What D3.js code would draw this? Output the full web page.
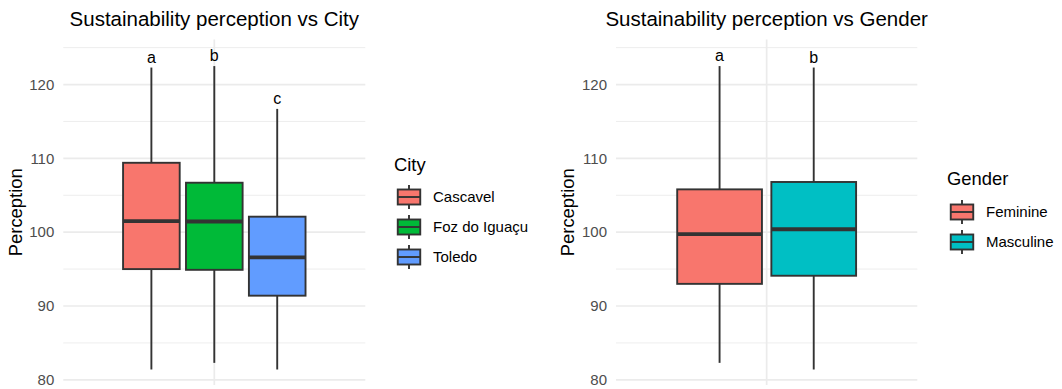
<!DOCTYPE html>
<html>
<head>
<meta charset="utf-8">
<script src="https://cdn.jsdelivr.net/npm/d3@7"></script>
<style>
  html, body { margin: 0; padding: 0; background: #ffffff; }
  svg { display: block; font-family: "Liberation Sans", Arial, Helvetica, sans-serif; }
</style>
</head>
<body>
<svg id="chart" width="1062" height="389"></svg>
<script>
// Box statistics per city (lower whisker, Q1, median, Q3, upper whisker)
const cityCategories = ["Cascavel", "Foz do Iguaçu", "Toledo"];
const cityLower  = [81.4, 82.3, 81.4];
const cityQ1     = [95.0, 94.9, 91.4];
const cityMedian = [101.5, 101.45, 96.6];
const cityQ3     = [109.4, 106.7, 102.1];
const cityUpper  = [122.3, 122.5, 116.7];
const cityLetters = ["a", "b", "c"];
const cityColors = ["#F8766D", "#00BA38", "#619CFF"];

// Box statistics per gender
const genderCategories = ["Feminine", "Masculine"];
const genderLower  = [82.3, 81.4];
const genderQ1     = [93.0, 94.1];
const genderMedian = [99.75, 100.4];
const genderQ3     = [105.8, 106.8];
const genderUpper  = [122.5, 122.3];
const genderLetters = ["a", "b"];
const genderColors = ["#F8766D", "#00BFC4"];

const yMajorTicks = [80, 90, 100, 110, 120];
const yMinorTicks = [85, 95, 105, 115, 125];
const yDomain = [79.3, 126.1];

const svg = d3.select("#chart");
const GRID = "#EBEBEB";
const OUTLINE = "#333333";

function drawPanel(cfg) {
  const g = svg.append("g");
  const y = d3.scaleLinear().domain(yDomain).range([385, 39.5]);
  // single discrete x position, expanded by 0.6 on each side
  const x = d3.scaleLinear().domain([0.4, 1.6]).range([cfg.left, cfg.right]);
  const dodge = d3.scaleBand()
    .domain(cfg.categories)
    .range([x(1 - 0.375), x(1 + 0.375)])
    .paddingInner(0.1)
    .paddingOuter(0.05);

  // grid
  g.selectAll("line.minor").data(yMinorTicks).join("line")
    .attr("x1", cfg.left).attr("x2", cfg.right)
    .attr("y1", d => y(d)).attr("y2", d => y(d))
    .attr("stroke", GRID).attr("stroke-width", 0.9);
  g.selectAll("line.major").data(yMajorTicks).join("line")
    .attr("x1", cfg.left).attr("x2", cfg.right)
    .attr("y1", d => y(d)).attr("y2", d => y(d))
    .attr("stroke", GRID).attr("stroke-width", 1.7);
  g.append("line")
    .attr("x1", x(1)).attr("x2", x(1))
    .attr("y1", y(yDomain[0])).attr("y2", y(yDomain[1]))
    .attr("stroke", GRID).attr("stroke-width", 1.7);

  // y axis labels
  const axis = d3.axisLeft(y).tickValues(yMajorTicks).tickSize(0).tickPadding(0);
  const ax = g.append("g").attr("transform", `translate(${cfg.left - 9},0)`).call(axis);
  ax.select(".domain").remove();
  ax.selectAll("text")
    .attr("fill", "#4D4D4D")
    .style("font-size", "15px")
    .style("font-family", "'Liberation Sans', Arial, sans-serif");

  // axis title
  g.append("text")
    .attr("transform", `translate(${cfg.left - 48},${(y(yDomain[0]) + y(yDomain[1])) / 2}) rotate(-90)`)
    .attr("text-anchor", "middle")
    .attr("dy", "0.35em")
    .style("font-size", "18.4px")
    .attr("fill", "#000")
    .text("Perception");

  // plot title
  g.append("text")
    .attr("x", (cfg.left + cfg.right) / 2)
    .attr("y", 26)
    .attr("text-anchor", "middle")
    .style("font-size", "20.5px")
    .attr("fill", "#000")
    .text(cfg.title);

  const rows = cfg.categories.map((c, i) => ({
    cat: c, lo: cfg.lower[i], q1: cfg.q1[i], med: cfg.median[i], q3: cfg.q3[i],
    hi: cfg.upper[i], letter: cfg.letters[i], color: cfg.colors[i]
  }));

  const boxes = g.selectAll("g.box").data(rows).join("g").attr("class", "box");
  const cx = d => dodge(d.cat) + dodge.bandwidth() / 2;

  boxes.append("line")
    .attr("x1", cx).attr("x2", cx)
    .attr("y1", d => y(d.hi)).attr("y2", d => y(d.q3))
    .attr("stroke", OUTLINE).attr("stroke-width", 1.9);
  boxes.append("line")
    .attr("x1", cx).attr("x2", cx)
    .attr("y1", d => y(d.q1)).attr("y2", d => y(d.lo))
    .attr("stroke", OUTLINE).attr("stroke-width", 1.9);
  boxes.append("rect")
    .attr("x", d => dodge(d.cat))
    .attr("width", dodge.bandwidth())
    .attr("y", d => y(d.q3))
    .attr("height", d => y(d.q1) - y(d.q3))
    .attr("fill", d => d.color)
    .attr("stroke", OUTLINE).attr("stroke-width", 1.9);
  boxes.append("line")
    .attr("x1", d => dodge(d.cat)).attr("x2", d => dodge(d.cat) + dodge.bandwidth())
    .attr("y1", d => y(d.med)).attr("y2", d => y(d.med))
    .attr("stroke", OUTLINE).attr("stroke-width", 3.8);
  boxes.append("text")
    .attr("x", cx)
    .attr("y", d => y(d.hi) - 5)
    .attr("text-anchor", "middle")
    .style("font-size", "16px")
    .attr("fill", "#000")
    .text(d => d.letter);

  // legend
  const lg = svg.append("g").attr("transform", `translate(${cfg.legendX},0)`);
  lg.append("text")
    .attr("x", 0).attr("y", cfg.legendTitleY)
    .style("font-size", "18.4px")
    .attr("fill", "#000")
    .text(cfg.legendTitle);
  const key = 30;
  const items = lg.selectAll("g.item").data(rows).join("g")
    .attr("transform", (d, i) => `translate(0,${cfg.legendTop + i * key})`);
  items.append("line")
    .attr("x1", key / 2).attr("x2", key / 2)
    .attr("y1", key * 0.1).attr("y2", key * 0.9)
    .attr("stroke", OUTLINE).attr("stroke-width", 1.9);
  items.append("rect")
    .attr("x", key * 0.125).attr("width", key * 0.75)
    .attr("y", key * 0.25).attr("height", key * 0.5)
    .attr("fill", d => d.color)
    .attr("stroke", OUTLINE).attr("stroke-width", 1.9);
  items.append("line")
    .attr("x1", key * 0.125).attr("x2", key * 0.875)
    .attr("y1", key / 2).attr("y2", key / 2)
    .attr("stroke", OUTLINE).attr("stroke-width", 1.9);
  items.append("text")
    .attr("x", key + 9).attr("y", key / 2)
    .attr("dy", "0.35em")
    .style("font-size", "15px")
    .attr("fill", "#000")
    .text(d => d.cat);
}

drawPanel({
  left: 63.3, right: 365.3,
  title: "Sustainability perception vs City",
  categories: cityCategories, lower: cityLower, q1: cityQ1, median: cityMedian,
  q3: cityQ3, upper: cityUpper, letters: cityLetters, colors: cityColors,
  legendX: 394, legendTitle: "City", legendTitleY: 171, legendTop: 182
});

drawPanel({
  left: 616, right: 917.3,
  title: "Sustainability perception vs Gender",
  categories: genderCategories, lower: genderLower, q1: genderQ1, median: genderMedian,
  q3: genderQ3, upper: genderUpper, letters: genderLetters, colors: genderColors,
  legendX: 947, legendTitle: "Gender", legendTitleY: 185, legendTop: 197
});
</script>
</body>
</html>
